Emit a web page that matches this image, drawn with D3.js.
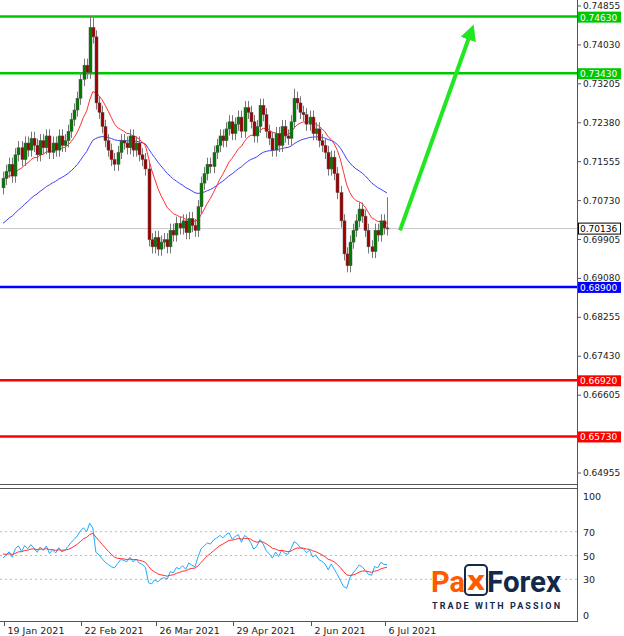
<!DOCTYPE html><html><head><meta charset="utf-8"><script src="https://cdn.jsdelivr.net/npm/d3@7"></script>
<style>body{margin:0;background:#fff}svg{display:block;font-family:"DejaVu Sans",sans-serif}</style></head><body><svg id="c" width="624" height="636"></svg>
<script>
const closes=[0.7120,0.7135,0.7150,0.7125,0.7170,0.7185,0.7160,0.7195,0.7180,
0.7205,0.7190,0.7170,0.7200,0.7185,0.7210,0.7175,0.7195,0.7180,0.7210,0.7190,
0.7200,0.7220,0.7245,0.7265,0.7290,0.7330,0.7360,0.7345,0.7440,0.7420,
0.7280,0.7260,0.7230,0.7200,0.7180,0.7160,0.7150,0.7175,0.7200,0.7195,0.7185,0.7210,0.7180,0.7195,0.7170,
0.7160,0.7140,0.6990,0.6975,0.6995,0.6970,0.6985,0.6990,0.6975,0.7010,0.7000,
0.7025,0.7015,0.7030,0.7005,0.7035,0.7020,0.7010,0.7060,0.7110,
0.7130,0.7150,0.7145,0.7175,0.7190,0.7210,0.7200,0.7225,0.7240,0.7215,0.7235,
0.7250,0.7220,0.7270,0.7260,0.7240,0.7210,0.7230,0.7275,0.7255,0.7220,0.7205,
0.7180,0.7215,0.7190,0.7230,0.7210,0.7205,0.7240,0.7290,
0.7280,0.7260,0.7255,0.7235,0.7250,0.7215,0.7225,0.7200,
0.7190,0.7175,0.7140,0.7165,0.7130,0.7090,0.7030,0.6960,
0.6935,0.6985,0.7010,0.7030,0.7055,0.7040,
0.7010,0.6975,0.6965,0.7010,0.7000,0.7030,0.7015,0.7013];
const extraHigh={28:0.7465,29:0.7460,124:0.7080,94:0.7310};
const priceTicks=[0.74855,0.74030,0.73205,0.72380,0.71555,0.70730,0.69905,0.69080,0.68255,0.67430,0.66605,0.65780,0.64955];
const levels=[{v:0.7463,c:"#00c800"},{v:0.7343,c:"#00c800"},{v:0.6890,c:"#0000ff"},{v:0.6692,c:"#ff0000"},{v:0.6573,c:"#ff0000"}];
const lastPrice=0.70136;
const dateLabels=[{i:0,t:"19 Jan 2021"},{i:25,t:"22 Feb 2021"},{i:49,t:"26 Mar 2021"},{i:74,t:"29 Apr 2021"},{i:99,t:"2 Jun 2021"},{i:123,t:"6 Jul 2021"}];
const rsiTicks=[100,70,50,30,0];

const svg=d3.select("#c"),AX=577;
const x=d3.scaleLinear().domain([0,124]).range([3,387]);
const y=d3.scaleLinear().domain([0.64955,0.74855]).range([473,6]);
const yr=d3.scaleLinear().domain([0,100]).range([615,496]);
const bars=closes.map((c,i)=>{const o=i?closes[i-1]:0.7100;return {i,o,c,h:extraHigh[i]||Math.max(o,c)+0.0014,l:Math.min(o,c)-0.0014};});
function ema(arr,p,seed){let k=2/(p+1),e=seed;return arr.map(v=>e=e+k*(v-e));}
const ma1=ema(closes,14,0.7120),ma2=ema(closes,40,0.7020);
let ag=0.0011,al=0.0012;const rsi=closes.map((c,i)=>{const d=i?c-closes[i-1]:0;ag=(ag*13+Math.max(d,0))/14;al=(al*13+Math.max(-d,0))/14;return 100-100/(1+ag/al);});
const rsiMa=ema(rsi,9,52);

svg.append("line").attr("x1",AX+.5).attr("x2",AX+.5).attr("y1",0).attr("y2",622).attr("stroke","#555");
svg.append("line").attr("x1",0).attr("x2",AX).attr("y1",484.5).attr("y2",484.5).attr("stroke","#555");
svg.append("line").attr("x1",0).attr("x2",AX).attr("y1",488.5).attr("y2",488.5).attr("stroke","#555");
svg.append("line").attr("x1",0).attr("x2",AX).attr("y1",621.5).attr("y2",621.5).attr("stroke","#555");
const lvlY=levels.map(l=>y(l.v)).concat([y(lastPrice)]);
priceTicks.forEach(t=>{svg.append("line").attr("x1",AX).attr("x2",AX+4).attr("y1",y(t)).attr("y2",y(t)).attr("stroke","#555");
if(lvlY.some(v=>Math.abs(v-y(t))<7)) return;
svg.append("text").attr("x",583).attr("y",y(t)+3).attr("font-size",9).attr("fill","#222").text(t.toFixed(5));});
svg.append("line").attr("x1",0).attr("x2",AX).attr("y1",y(lastPrice)).attr("y2",y(lastPrice)).attr("stroke","#c8c8c8");
levels.forEach(l=>{svg.append("line").attr("x1",0).attr("x2",AX).attr("y1",y(l.v)).attr("y2",y(l.v)).attr("stroke",l.c).attr("stroke-width",2.5);
svg.append("rect").attr("x",578).attr("y",y(l.v)-5).attr("width",43).attr("height",11).attr("fill",l.c);
svg.append("text").attr("x",580).attr("y",y(l.v)+4).attr("font-size",9).attr("fill","#fff").text(l.v.toFixed(5));});
svg.append("rect").attr("x",578.5).attr("y",y(lastPrice)-5.5).attr("width",42).attr("height",11).attr("fill","#fff").attr("stroke","#000");
svg.append("text").attr("x",580).attr("y",y(lastPrice)+3.5).attr("font-size",9).attr("fill","#000").text(lastPrice.toFixed(5));
const ln=(arr,sc)=>d3.line().x((d,i)=>x(i)).y(d=>sc(d))(arr);
svg.append("path").attr("d",ln(ma2,y)).attr("fill","none").attr("stroke","#4040ff").attr("stroke-width",1);
svg.append("path").attr("d",ln(ma1,y)).attr("fill","none").attr("stroke","#ff3030").attr("stroke-width",1);
const g=svg.append("g");
bars.forEach(b=>{const cx=Math.round(x(b.i))+.5;
g.append("line").attr("x1",cx).attr("x2",cx).attr("y1",y(b.h)).attr("y2",y(b.l)).attr("stroke","#777");
const up=b.c>=b.o;g.append("rect").attr("x",cx-1.5).attr("width",3).attr("y",y(Math.max(b.o,b.c))).attr("height",Math.max(1,Math.abs(y(b.o)-y(b.c)))).attr("fill",up?"#007a00":"#a00000").attr("stroke","#555").attr("stroke-width",0.5);});
svg.append("defs").append("marker").attr("id","ah").attr("viewBox","0 0 10 10").attr("refX",5).attr("refY",5).attr("markerWidth",4).attr("markerHeight",4).attr("orient","auto").append("path").attr("d","M0,0L10,5L0,10z").attr("fill","#22e622");
svg.append("line").attr("x1",400).attr("y1",y(0.7010)).attr("x2",471).attr("y2",32).attr("stroke","#22e622").attr("stroke-width",4).attr("marker-end","url(#ah)");
[70,50,30].forEach(t=>svg.append("line").attr("x1",0).attr("x2",AX).attr("y1",yr(t)).attr("y2",yr(t)).attr("stroke","#bbb").attr("stroke-dasharray","2,3"));
rsiTicks.forEach(t=>{svg.append("text").attr("x",583).attr("y",yr(t)+4).attr("font-size",9.5).attr("fill","#222").text(t);});
svg.append("path").attr("d",ln(rsi,yr)).attr("fill","none").attr("stroke","#1eaaff").attr("stroke-width",1);
svg.append("path").attr("d",ln(rsiMa,yr)).attr("fill","none").attr("stroke","#ff3030").attr("stroke-width",1);
dateLabels.forEach(d=>{const dx=Math.round(x(d.i))+1.5;svg.append("line").attr("x1",dx).attr("x2",dx).attr("y1",622).attr("y2",626).attr("stroke","#555");
svg.append("text").attr("x",dx+3).attr("y",634).attr("font-size",9.5).attr("fill","#222").text(d.t);});
const lg=svg.append("g").attr("font-family","Roboto, sans-serif").attr("font-weight","bold");
lg.append("text").attr("x",431).attr("y",592).attr("font-size",30).attr("fill","#ff5a00").attr("textLength",34).attr("lengthAdjust","spacingAndGlyphs").text("Pa");
lg.append("rect").attr("x",465).attr("y",565).attr("width",22).attr("height",30).attr("rx",4).attr("fill","none").attr("stroke","#13294b").attr("stroke-width",2);
lg.append("text").attr("x",467).attr("y",590).attr("font-size",28).attr("fill","#ff5a00").attr("textLength",18).attr("lengthAdjust","spacingAndGlyphs").text("x");
lg.append("text").attr("x",487).attr("y",592).attr("font-size",30).attr("fill","#13294b").attr("textLength",74).attr("lengthAdjust","spacingAndGlyphs").text("Forex");
lg.append("text").attr("x",432).attr("y",609).attr("font-size",9).attr("fill","#13294b").attr("textLength",128).attr("lengthAdjust","spacing").text("TRADE WITH PASSION");
</script></body></html>
